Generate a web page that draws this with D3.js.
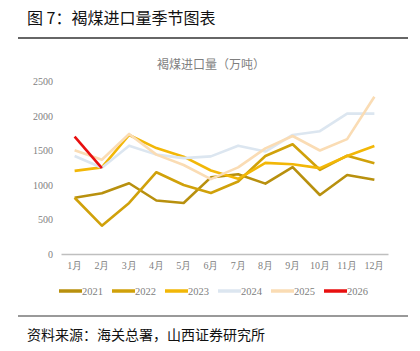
<!DOCTYPE html>
<html>
<head>
<meta charset="utf-8">
<script src="https://cdn.jsdelivr.net/npm/d3@7"></script>
<style>
  body { margin: 0; background: #fff; }
  svg { display: block; }
</style>
</head>
<body>
<div id="chart"></div>
<script>
// months on the x axis
const months = ["1月", "2月", "3月", "4月", "5月", "6月", "7月", "8月", "9月", "10月", "11月", "12月"];
const years = ["2021", "2022", "2023", "2024", "2025", "2026"];
const yTicks = [0, 500, 1000, 1500, 2000, 2500];

// monthly lignite imports, 10k tonnes
const v2021 = [815, 880, 1025, 775, 740, 1110, 1155, 1020, 1260, 855, 1145, 1075];
const v2022 = [815, 410, 740, 1185, 1000, 885, 1050, 1420, 1590, 1220, 1425, 1315];
const v2023 = [1205, 1255, 1725, 1535, 1410, 1210, 1090, 1320, 1300, 1245, 1420, 1565];
const v2024 = [1420, 1250, 1570, 1440, 1390, 1415, 1570, 1485, 1725, 1780, 2035, 2035];
const v2025 = [1505, 1365, 1740, 1440, 1290, 1085, 1255, 1530, 1710, 1500, 1665, 2280];
const v2026 = [1700, 1245];

const seriesValues = [v2021, v2022, v2023, v2024, v2025, v2026];
const colors = ["#B8900E", "#D0A10A", "#F2B707", "#DCE6F0", "#FADCB4", "#E80F0F"];

const W = 420, H = 351;
const svg = d3.select("#chart").append("svg").attr("width", W).attr("height", H);

const sans = "'Noto Sans CJK SC', 'Noto Sans', sans-serif";
const serif = "'Liberation Serif', 'DejaVu Serif', serif";

// header
svg.append("text").attr("x", 27).attr("y", 24)
  .attr("font-family", sans).attr("font-size", 16).attr("fill", "#111")
  .text("图 7：褐煤进口量季节图表");
svg.append("line").attr("x1", 18).attr("x2", 408).attr("y1", 38).attr("y2", 38)
  .attr("stroke", "#333").attr("stroke-width", 1.5);

// chart title
svg.append("text").attr("x", 211).attr("y", 69).attr("text-anchor", "middle")
  .attr("font-family", sans).attr("font-size", 12).attr("fill", "#7f7f7f")
  .text("褐煤进口量（万吨）");

const x = d3.scaleBand().domain(months).range([61, 388]);
const y = d3.scaleLinear().domain([0, 2500]).range([254, 81.5]);

// y axis labels
const yAxis = svg.append("g").attr("transform", "translate(61,0)")
  .call(d3.axisLeft(y).tickValues(yTicks).tickFormat(d3.format("d")).tickSize(0).tickPadding(8));
yAxis.select(".domain").remove();
yAxis.selectAll("text").attr("font-family", serif).attr("font-size", 10).attr("fill", "#808080");

// x axis
const xAxis = svg.append("g").attr("transform", "translate(0,254)")
  .call(d3.axisBottom(x).tickSize(0).tickPadding(8));
xAxis.select(".domain").attr("stroke", "#bfbfbf").attr("stroke-width", 1.5);
xAxis.selectAll("text").attr("font-family", serif).attr("font-size", 10).attr("fill", "#808080");

// lines
const line = d3.line()
  .x((d, i) => x(months[i]) + x.bandwidth() / 2)
  .y(d => y(d));

svg.append("g").selectAll("path")
  .data(seriesValues)
  .join("path")
  .attr("fill", "none")
  .attr("stroke", (d, i) => colors[i])
  .attr("stroke-width", 2.6)
  .attr("stroke-linejoin", "round")
  .attr("d", line);

// legend
const legend = svg.append("g").selectAll("g")
  .data(years)
  .join("g")
  .attr("transform", (d, i) => `translate(${59 + i * 53},291)`);
legend.append("line").attr("x1", 0).attr("x2", 23).attr("y1", 0).attr("y2", 0)
  .attr("stroke", (d, i) => colors[i]).attr("stroke-width", 3.5);
legend.append("text").attr("x", 23).attr("y", 4)
  .attr("font-family", serif).attr("font-size", 10.5).attr("fill", "#808080")
  .text(d => d);

// footer
svg.append("line").attr("x1", 18).attr("x2", 408).attr("y1", 316).attr("y2", 316)
  .attr("stroke", "#777").attr("stroke-width", 1.5);
svg.append("text").attr("x", 27).attr("y", 340)
  .attr("font-family", sans).attr("font-size", 14).attr("fill", "#111")
  .text("资料来源：海关总署，山西证券研究所");
</script>
</body>
</html>
